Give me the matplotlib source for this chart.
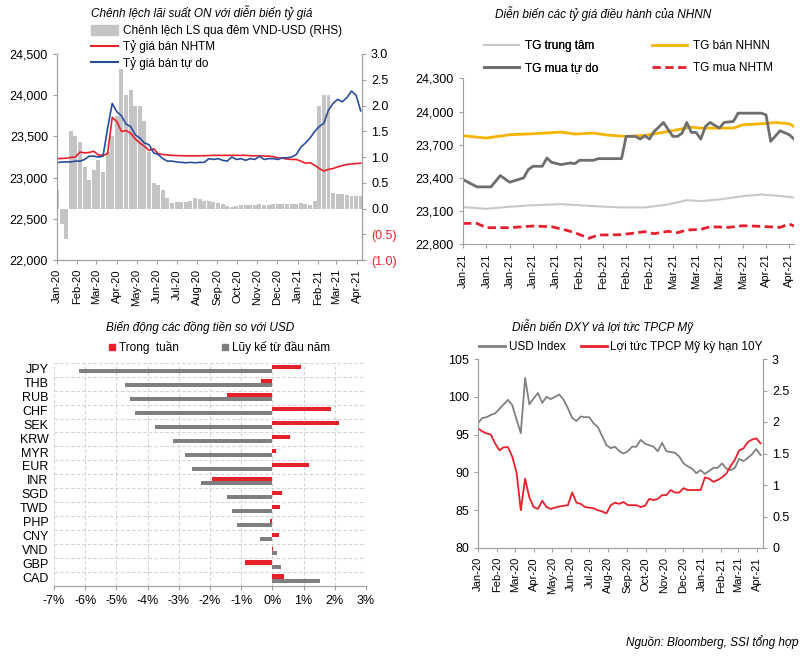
import matplotlib
matplotlib.use("Agg")
import matplotlib.pyplot as plt
import matplotlib.dates as mdates
import numpy as np
import pandas as pd
from matplotlib.lines import Line2D
from matplotlib.patches import Patch

plt.rcParams["font.family"] = ["Liberation Sans", "DejaVu Sans"]
TITLE_FAMILY = ["Liberation Sans Narrow", "Liberation Sans", "DejaVu Sans"]

RED = "#e8202a"
BLUE = "#2a4d9b"
BAR_GRAY = "#c4c4c4"
AXIS_GRAY = "#a0a0a0"

# ---- panel 1: ON spread vs exchange rates (weekly, from 2020-01-01) ----
P1_START = "2020-01-01"
on_spread = [0.35, -0.3, -0.6, 1.5, 1.4, 1.3, 0.8, 0.55, 0.75, 0.95,
             0.7, 1.1, 1.4, 1.8, 2.7, 2.2, 2.3, 2.0, 2.0, 1.7,
             1.1, 0.5, 0.45, 0.35, 0.2, 0.1, 0.12, 0.12, 0.12, 0.15,
             0.2, 0.18, 0.15, 0.15, 0.12, 0.1, 0.08, 0.05, 0.02, 0.05,
             0.06, 0.06, 0.06, 0.06, 0.08, 0.07, 0.07, 0.08, 0.08, 0.08,
             0.08, 0.08, 0.08, 0.1, 0.08, 0.07, 0.15, 2.0, 2.2, 2.2,
             0.3, 0.28, 0.28, 0.27, 0.25, 0.25, 0.25]
nhtm_sell = [23230, 23232, 23235, 23245, 23250, 23310, 23300, 23305, 23320, 23275,
             23270, 23290, 23730, 23680, 23560, 23570, 23540, 23470, 23420, 23380,
             23330, 23350, 23290, 23280, 23275, 23270, 23268, 23265, 23265, 23265,
             23265, 23265, 23265, 23268, 23270, 23270, 23270, 23270, 23270, 23270,
             23270, 23270, 23265, 23265, 23265, 23262, 23260, 23255, 23240, 23235,
             23225, 23220, 23220, 23200, 23175, 23180, 23150, 23110, 23080, 23100,
             23110, 23130, 23145, 23160, 23165, 23170, 23175]
free_sell = [23180, 23190, 23190, 23190, 23200, 23200, 23220, 23260, 23260, 23250,
             23260, 23600, 23900, 23800, 23750, 23650, 23620, 23520, 23480, 23420,
             23400, 23300, 23280, 23230, 23200, 23200, 23190, 23185, 23180, 23185,
             23180, 23185, 23185, 23230, 23220, 23230, 23210, 23200, 23250, 23220,
             23230, 23210, 23230, 23220, 23260, 23220, 23230, 23230, 23220, 23240,
             23240, 23250, 23280, 23370, 23420, 23480, 23560, 23620, 23660, 23820,
             23900, 23950, 23920, 23970, 24050, 24000, 23810]

# ---- panel 2: SBV reference rates (trading-day index, 2021) ----
p2_labels = ["Jan-21"] * 5 + ["Feb-21"] * 4 + ["Mar-21"] * 4 + ["Apr-21"] * 2
sbv_sell_idx = [0, 5, 10, 15, 21, 24, 28, 31, 35, 39, 44, 49, 51, 58, 60, 64, 67, 70, 71]
sbv_sell = [23781, 23760, 23790, 23799, 23814, 23796, 23805, 23787, 23775, 23784,
            23820, 23859, 23850, 23850, 23880, 23889, 23901, 23889, 23865]
central_idx = [0, 5, 10, 14, 21, 28, 34, 39, 44, 48, 51, 55, 60, 64, 67, 71]
central = [23136, 23121, 23139, 23151, 23163, 23145, 23133, 23133, 23160, 23199,
           23190, 23205, 23235, 23250, 23241, 23223]
free_buy_idx = [0, 3, 6, 8, 10, 13, 14, 15, 17, 18, 19, 21, 23, 24, 25, 28, 29, 34, 35, 37,
                38, 39, 40, 41, 42, 43, 45, 46, 47, 48, 49, 50, 51, 52, 53, 55, 56, 58, 59, 64,
                65, 66, 68, 70, 71]
free_buy = [23385, 23319, 23319, 23421, 23361, 23400, 23475, 23505, 23505, 23580,
            23541, 23520, 23535, 23529, 23559, 23559, 23574, 23574, 23775, 23775,
            23751, 23781, 23751, 23820, 23859, 23901, 23775, 23775, 23805, 23901,
            23811, 23811, 23751, 23865, 23901, 23850, 23901, 23910, 23985, 23985,
            23970, 23730, 23826, 23790, 23751]
nhtm_buy_idx = [0, 3, 5, 10, 15, 19, 22, 24, 27, 29, 34, 39, 41, 44, 46, 48, 51, 53, 57,
                60, 64, 68, 70, 71]
nhtm_buy = [22989, 22989, 22950, 22950, 22965, 22959, 22929, 22905, 22854, 22884,
            22887, 22914, 22896, 22917, 22905, 22929, 22935, 22959, 22953, 22968,
            22962, 22953, 22983, 22965]

# ---- panel 3: currencies vs USD (%) ----
currencies = ["JPY", "THB", "RUB", "CHF", "SEK", "KRW", "MYR", "EUR",
              "INR", "SGD", "TWD", "PHP", "CNY", "VND", "GBP", "CAD"]
week_chg = [0.91, -0.35, -1.45, 1.89, 2.14, 0.58, 0.13, 1.17,
            -1.94, 0.32, 0.24, -0.09, 0.21, 0.03, -0.89, 0.37]
ytd_chg = [-6.21, -4.72, -4.55, -4.39, -3.76, -3.18, -2.81, -2.58,
           -2.28, -1.45, -1.29, -1.13, -0.41, 0.15, 0.27, 1.53]

# ---- panel 4: DXY and US 10Y yield (weekly, from 2020-01-01) ----
P4_START = "2020-01-01"
dxy = [96.5, 97.2, 97.3, 97.6, 97.8, 98.4, 99.0, 99.6, 98.9, 97.0,
       95.2, 102.5, 99.0, 99.8, 100.5, 99.2, 100.0, 99.7, 100.0, 100.3,
       99.6, 98.5, 97.2, 96.8, 97.4, 97.3, 97.3, 96.5, 96.0, 94.8,
       93.6, 93.2, 93.4, 92.8, 92.5, 92.8, 93.4, 93.4, 94.3, 93.8,
       93.6, 93.4, 92.8, 93.9, 92.8, 92.7, 92.6, 92.1, 91.2, 90.8,
       90.5, 89.9, 90.3, 89.8, 90.2, 90.6, 90.6, 91.2, 90.5, 90.3,
       90.6, 91.8, 91.5, 91.9, 92.4, 93.1, 92.3]
ust10y = [1.90, 1.85, 1.82, 1.80, 1.66, 1.55, 1.60, 1.60, 1.45, 1.20,
          0.60, 1.10, 0.80, 0.65, 0.62, 0.75, 0.65, 0.62, 0.64, 0.66,
          0.67, 0.68, 0.88, 0.72, 0.70, 0.65, 0.64, 0.63, 0.60, 0.58,
          0.55, 0.68, 0.72, 0.70, 0.73, 0.68, 0.68, 0.68, 0.65, 0.67,
          0.78, 0.76, 0.78, 0.84, 0.84, 0.92, 0.88, 0.88, 0.95, 0.92,
          0.92, 0.92, 0.92, 1.12, 1.10, 1.05, 1.08, 1.12, 1.18, 1.30,
          1.40, 1.55, 1.58, 1.68, 1.72, 1.74, 1.66]

TICK_FS = 9
LEG_FS = 8.5


def style_spines(ax, keep):
    for name, sp in ax.spines.items():
        sp.set_visible(name in keep)
        sp.set_color(AXIS_GRAY)
    ax.tick_params(colors=AXIS_GRAY, labelcolor="black", labelsize=TICK_FS, length=3)


def month_axis(ax, start, end):
    ax.set_xlim(pd.Timestamp(start), pd.Timestamp(end))
    ax.xaxis.set_major_locator(mdates.MonthLocator())
    ax.xaxis.set_major_formatter(mdates.DateFormatter("%b-%y"))
    ax.tick_params(axis="x", labelrotation=90, labelsize=8)


fig = plt.figure(figsize=(8.1, 6.56), dpi=100)


def title(x, y, s):
    fig.text(x / 810, 1 - y / 656, s, ha="center", va="center", fontsize=8.5,
             style="italic", family=TITLE_FAMILY)


# ---------------- panel 1 ----------------
ax1 = fig.add_axes([57 / 810, 1 - 260 / 656, 305 / 810, 206 / 656])
ax1r = ax1.twinx()
d1 = pd.date_range(P1_START, periods=len(on_spread), freq="7D")
ax1r.bar(d1, on_spread, width=6, color=BAR_GRAY, linewidth=0)
ax1.plot(d1, nhtm_sell, color=RED, lw=1.2)
ax1.plot(d1, free_sell, color=BLUE, lw=1.2)
ax1.set_zorder(ax1r.get_zorder() + 1)
ax1.patch.set_visible(False)
ax1.set_ylim(22000, 24500)
ax1.set_yticks(np.arange(22000, 24501, 500))
ax1.yaxis.set_major_formatter(lambda v, p: f"{v:,.0f}")
ax1r.set_ylim(-1, 3)
rt = np.arange(-1.0, 3.01, 0.5)
ax1r.set_yticks(rt, [f"({abs(v):.1f})" if v < 0 else f"{v:.1f}" for v in rt])
style_spines(ax1, ("left", "bottom", "right"))
style_spines(ax1r, ("left", "bottom", "right"))
for lab, v in zip(ax1r.get_yticklabels(), rt):
    if v < 0:
        lab.set_color(RED)
month_axis(ax1, "2020-01-01", "2021-04-09")
title(202, 13, "Chênh lệch lãi suất ON với diễn biến tỷ giá")
h1 = [Patch(color=BAR_GRAY), Line2D([], [], color=RED, lw=1.5), Line2D([], [], color=BLUE, lw=1.5)]
fig.legend(h1, ["Chênh lệch LS qua đêm VND-USD (RHS)", "Tỷ giá bán NHTM", "Tỷ giá bán tự do"],
           loc="upper left", bbox_to_anchor=(91 / 810, 1 - 25 / 656), frameon=False,
           fontsize=LEG_FS, handlelength=2.3, handleheight=0.9, handletextpad=0.45,
           labelspacing=0.3, borderpad=0, borderaxespad=0)

# ---------------- panel 2 ----------------
ax2 = fig.add_axes([463 / 810, 1 - 244.3 / 656, 331 / 810, 166 / 656])
ax2.plot(central_idx, central, color="#c8c8c8", lw=1.5)
ax2.plot(sbv_sell_idx, sbv_sell, color="#f5b400", lw=2)
ax2.plot(free_buy_idx, free_buy, color="#6e6e6e", lw=2)
ax2.plot(nhtm_buy_idx, nhtm_buy, color="#e4202e", lw=2, dashes=(3, 1.6))
ax2.set_xlim(0, 71)
ax2.set_ylim(22800, 24300)
ax2.set_yticks(np.arange(22800, 24301, 300))
ax2.yaxis.set_major_formatter(lambda v, p: f"{v:,.0f}")
ax2.set_xticks(np.arange(0, 71, 5), p2_labels)
style_spines(ax2, ("left", "bottom"))
ax2.tick_params(axis="x", labelrotation=90, labelsize=8)
title(603, 14, "Diễn biến các tỷ giá điều hành của NHNN")
leg_kw = dict(loc="upper left", frameon=False, fontsize=LEG_FS, handlelength=3.0,
              handletextpad=0.45, labelspacing=0.85, borderpad=0, borderaxespad=0)
lg = fig.legend([Line2D([], [], color="#c8c8c8", lw=1.5), Line2D([], [], color="#6e6e6e", lw=2)],
                ["TG trung tâm", "TG mua tự do"], bbox_to_anchor=(484 / 810, 1 - 40 / 656), **leg_kw)
fig.add_artist(lg)
fig.legend([Line2D([], [], color="#f5b400", lw=2), Line2D([], [], color="#e4202e", lw=2, dashes=(3, 1.6))],
           ["TG bán NHNN", "TG mua NHTM"], bbox_to_anchor=(652 / 810, 1 - 40 / 656), **leg_kw)

# ---------------- panel 3 ----------------
ax3 = fig.add_axes([54 / 810, 1 - 586 / 656, 312 / 810, 223.3 / 656])
pos = np.arange(len(currencies))
ax3.barh(pos - 0.08, week_chg, height=0.3, color=RED, zorder=3)
ax3.barh(pos + 0.22, ytd_chg, height=0.3, color="#7f7f7f", zorder=3)
ax3.set_xlim(-7, 3)
ax3.set_ylim(15.6, -0.4)
xt = np.arange(-7, 4)
ax3.set_xticks(xt, [f"{v}%" for v in xt])
ax3.set_yticks(pos, currencies)
ax3.set_yticks(np.arange(-0.4, 15.0, 1.0), minor=True)
ax3.grid(axis="x", which="major", color="#d3d3d3", lw=0.8, ls=(0, (3, 2)))
ax3.grid(axis="y", which="minor", color="#d3d3d3", lw=0.8, ls=(0, (3, 2)))
style_spines(ax3, ("bottom",))
ax3.tick_params(axis="y", which="both", length=0)
ax3.tick_params(axis="y", pad=4)
title(200, 327, "Biến động các đồng tiền so với USD")
fig.legend([Line2D([], [], marker="s", ls="", color=RED, markersize=5),
            Line2D([], [], marker="s", ls="", color="#7f7f7f", markersize=5)],
           ["Trong  tuần", "Lũy kế từ đầu năm"], loc="upper left",
           bbox_to_anchor=(108 / 810, 1 - 341 / 656), ncol=2, frameon=False, fontsize=LEG_FS,
           handlelength=0.6, handletextpad=0.3, columnspacing=3.6, borderpad=0, borderaxespad=0)

# ---------------- panel 4 ----------------
ax4 = fig.add_axes([478 / 810, 1 - 548 / 656, 285 / 810, 189 / 656])
ax4r = ax4.twinx()
d4 = pd.date_range(P4_START, periods=len(dxy), freq="7D")
ax4.plot(d4, dxy, color="#808080", lw=1.3)
ax4r.plot(d4, ust10y, color=RED, lw=1.3)
ax4.set_ylim(80, 105)
ax4.set_yticks(np.arange(80, 106, 5))
ax4r.set_ylim(0, 3)
ax4r.set_yticks(np.arange(0, 3.01, 0.5))
ax4r.yaxis.set_major_formatter(lambda v, p: f"{v:g}")
style_spines(ax4, ("left", "bottom", "right"))
style_spines(ax4r, ("left", "bottom", "right"))
month_axis(ax4, "2020-01-01", "2021-04-11")
title(603, 327, "Diễn biến DXY và lợi tức TPCP Mỹ")
fig.legend([Line2D([], [], color="#808080", lw=2), Line2D([], [], color=RED, lw=2)],
           ["USD Index", "Lợi tức TPCP Mỹ kỳ hạn 10Y"], loc="upper left",
           bbox_to_anchor=(479 / 810, 1 - 341 / 656), ncol=2, frameon=False, fontsize=LEG_FS,
           handlelength=2.2, handletextpad=0.3, columnspacing=1.3, borderpad=0, borderaxespad=0)

fig.text(799 / 810, 1 - 642 / 656, "Nguồn: Bloomberg, SSI tổng hợp", ha="right", va="center",
         fontsize=8.5, style="italic", family=TITLE_FAMILY)

fig.savefig("out.png", dpi=100)
